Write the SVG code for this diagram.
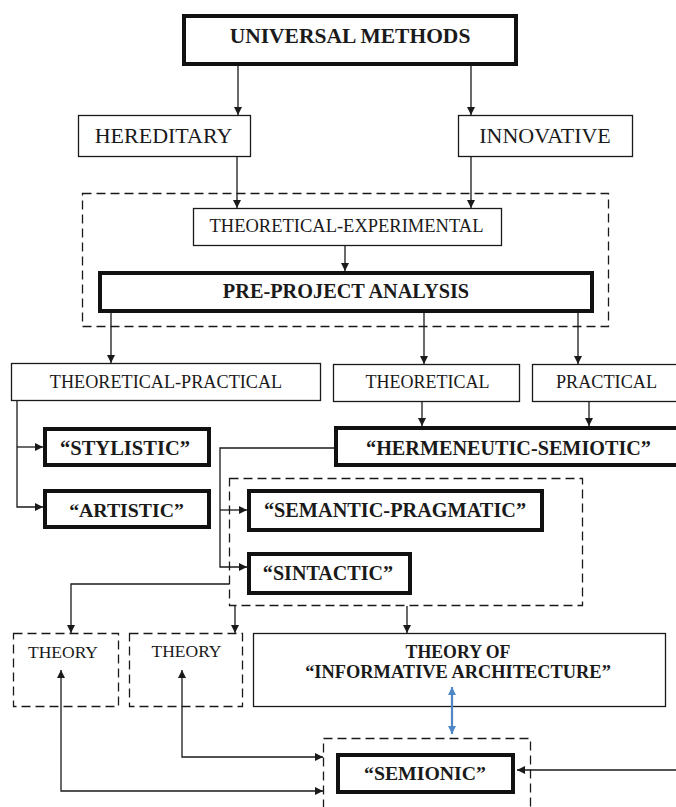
<svg xmlns="http://www.w3.org/2000/svg" width="676" height="807" viewBox="0 0 676 807">
<defs>
<style>
.thin{fill:#fff;stroke:#1a1a1a;stroke-width:1.3}
.thick{fill:#fff;stroke:#111;stroke-width:4}
.dash{fill:none;stroke:#1a1a1a;stroke-width:1.3;stroke-dasharray:9,5}
text{font-family:"Liberation Serif","Times New Roman",serif;fill:#1a1a1a;text-anchor:middle}
.b{font-weight:bold}
.c{fill:none;stroke:#1a1a1a;stroke-width:1.3}
.blue{fill:none;stroke:#4f86c6;stroke-width:2.2}
</style>
<marker id="ah" viewBox="0 0 10 10" refX="10" refY="5" markerWidth="9" markerHeight="8" markerUnits="userSpaceOnUse" orient="auto-start-reverse">
<path d="M0,0 L10,5 L0,10 z" fill="#1a1a1a"/>
</marker>
<marker id="bh" viewBox="0 0 10 10" refX="10" refY="5" markerWidth="9" markerHeight="8" markerUnits="userSpaceOnUse" orient="auto-start-reverse">
<path d="M0,0 L10,5 L0,10 z" fill="#4f86c6"/>
</marker>
</defs>
<rect width="676" height="807" fill="#fff"/>

<g id="frame-outer"><rect class="dash" x="82.5" y="193.5" width="526" height="133"/></g>
<g id="frame-inner"><rect class="dash" x="229.5" y="478.5" width="353" height="127"/></g>
<g id="frame-semionic"><rect class="dash" x="323.5" y="738.5" width="207" height="80"/></g>

<g id="universal-methods"><rect class="thick" x="184" y="16" width="332" height="48"/><text class="b" x="350" y="43" font-size="21.5">UNIVERSAL METHODS</text></g>
<g id="hereditary"><rect class="thin" x="78.5" y="115.5" width="172" height="41"/><text x="163.5" y="143" font-size="22">HEREDITARY</text></g>
<g id="innovative"><rect class="thin" x="458.5" y="115.5" width="174" height="41"/><text x="545" y="143" font-size="22">INNOVATIVE</text></g>
<g id="theoretical-experimental"><rect class="thin" x="193.5" y="208.5" width="308" height="37"/><text x="346.5" y="232" font-size="18.5">THEORETICAL-EXPERIMENTAL</text></g>
<g id="pre-project-analysis"><rect class="thick" x="100" y="273" width="492" height="38"/><text class="b" x="346" y="298" font-size="20.3">PRE-PROJECT ANALYSIS</text></g>
<g id="theoretical-practical"><rect class="thin" x="11.5" y="363.5" width="309" height="37"/><text x="166" y="388" font-size="18.2">THEORETICAL-PRACTICAL</text></g>
<g id="theoretical"><rect class="thin" x="333.5" y="364.5" width="186" height="37"/><text x="427.5" y="388" font-size="18">THEORETICAL</text></g>
<g id="practical"><rect class="thin" x="532.5" y="364.5" width="160" height="37"/><text x="606.5" y="388" font-size="18.2">PRACTICAL</text></g>
<g id="hermeneutic-semiotic"><rect class="thick" x="336" y="428" width="360" height="37"/><text class="b" x="508.5" y="455" font-size="20.2">“HERMENEUTIC-SEMIOTIC”</text></g>
<g id="stylistic"><rect class="thick" x="45" y="429" width="164" height="36"/><text class="b" x="125" y="455" font-size="20.5">“STYLISTIC”</text></g>
<g id="artistic"><rect class="thick" x="45" y="491" width="164" height="36"/><text class="b" x="126.5" y="517" font-size="19.8">“ARTISTIC”</text></g>
<g id="semantic-pragmatic"><rect class="thick" x="249" y="491" width="293" height="39"/><text class="b" x="395" y="517" font-size="20.3">“SEMANTIC-PRAGMATIC”</text></g>
<g id="sintactic"><rect class="thick" x="249" y="554" width="161" height="39"/><text class="b" x="328" y="580" font-size="20.1">“SINTACTIC”</text></g>
<g id="theory-1"><rect class="dash" x="13.5" y="633.5" width="105" height="73"/><text x="63" y="658" font-size="17.5">THEORY</text></g>
<g id="theory-2"><rect class="dash" x="129.5" y="633.5" width="113" height="73"/><text x="186.5" y="657" font-size="17.5">THEORY</text></g>
<g id="theory-informative-architecture"><rect class="thin" x="253.5" y="633.5" width="412" height="73"/><text class="b" x="458" y="658" font-size="17.8">THEORY OF</text><text class="b" x="458" y="678" font-size="18.4">“INFORMATIVE ARCHITECTURE”</text></g>
<g id="semionic"><rect class="thick" x="338" y="755" width="175" height="37"/><text class="b" x="425" y="780" font-size="19.8">“SEMIONIC”</text></g>

<g id="connectors">
<line class="c" x1="238" y1="66" x2="238" y2="115" marker-end="url(#ah)"/>
<line class="c" x1="471" y1="66" x2="471" y2="115" marker-end="url(#ah)"/>
<line class="c" x1="237" y1="157" x2="237" y2="208" marker-end="url(#ah)"/>
<line class="c" x1="471" y1="157" x2="471" y2="208" marker-end="url(#ah)"/>
<line class="c" x1="345" y1="246" x2="345" y2="271" marker-end="url(#ah)"/>
<line class="c" x1="111" y1="313" x2="111" y2="363" marker-end="url(#ah)"/>
<line class="c" x1="424" y1="313" x2="424" y2="364" marker-end="url(#ah)"/>
<line class="c" x1="578" y1="313" x2="578" y2="364" marker-end="url(#ah)"/>
<polyline class="c" points="17,401 17,507 43,507" marker-end="url(#ah)"/>
<line class="c" x1="17" y1="447" x2="43" y2="447" marker-end="url(#ah)"/>
<line class="c" x1="422" y1="402" x2="422" y2="426" marker-end="url(#ah)"/>
<line class="c" x1="589" y1="402" x2="589" y2="426" marker-end="url(#ah)"/>
<polyline class="c" points="334,448 220,448 220,567 247,567" marker-end="url(#ah)"/>
<line class="c" x1="220" y1="510" x2="247" y2="510" marker-end="url(#ah)"/>
<polyline class="c" points="229,584 71,584 71,633" marker-end="url(#ah)"/>
<line class="c" x1="235" y1="606" x2="235" y2="633" marker-end="url(#ah)"/>
<line class="c" x1="407" y1="606" x2="407" y2="633" marker-end="url(#ah)"/>
<line class="blue" x1="452" y1="687" x2="452" y2="734" marker-start="url(#bh)" marker-end="url(#bh)"/>
<polyline class="c" points="182,670 182,757 323,757" marker-start="url(#ah)" marker-end="url(#ah)"/>
<polyline class="c" points="61,670 61,791 323,791" marker-start="url(#ah)" marker-end="url(#ah)"/>
<line class="c" x1="676" y1="770" x2="517" y2="770" marker-end="url(#ah)"/>
</g>
</svg>
